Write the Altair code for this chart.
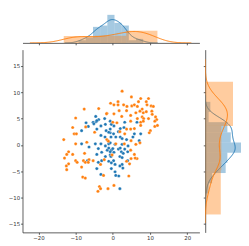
import altair as alt
import numpy as np
import pandas as pd

# ---- data ----
blue_x = [-4.6, -2.2, -7.2, -5.3, -4.5, -3.8, -0.7, 3.2, 6.5,
          -8.4, -6.6, -5.1, -4.3, -3.2, -2.0, -0.4, -4.3, -1.8, -0.7,
          -3.2, -2.1, -8.4, -6.4, -4.7, -3.9, -3.2, -2.0, -1.1, -1.5,
          -3.0, -4.3, -0.7, -2.0, -6.8, -3.0, -0.4, -1.1,
          0.3, -0.7, -1.1, 0.2, 1.5, 2.0, 3.0, 5.8, 7.5, -0.5,
          0.8, 2.0, 2.5, -0.7, 0.6, 2.5, 4.1, -1.1, 0.0, 1.5,
          2.0, 3.2, -0.7, 0.3, 2.3, 2.8, 4.0, -0.5, 1.9, 2.5,
          0.2, 4.0, 7.1, 5.4, 3.7,
          -4.3, -3.2, -3.9, -0.4,
          1.9, 0.6, 0.8, 2.5, 1.9, 2.7, -0.4, 0.6, 1.6]
blue_y = [5.4, 5.0, 4.2, 4.3, 4.4, 4.8, 4.5, 4.3, 4.3,
          2.7, 3.5, 4.0, 4.6, 3.6, 3.9, 3.9, 3.0, 2.7, 2.3,
          1.8, 1.5, 0.2, -0.4, 0.2, -0.7, 0.2, -0.2, 0.2, -1.0,
          -1.4, -1.8, -1.9, -2.2, -3.0, -3.0, -1.0, -3.1,
          3.6, 3.0, 2.4, 2.1, 2.5, 3.1, 3.3, 2.1, 2.1, 1.5,
          1.5, 1.5, 1.2, 0.4, 0.1, 0.1, -0.2, -0.6, -0.7, -0.8,
          -0.6, -0.8, -1.3, -1.4, -1.3, -1.6, -1.3, -2.2, -2.2, -2.4,
          -3.0, -3.0, 0.8, 1.5, 1.0,
          -4.5, -5.6, -3.3, -3.4,
          -8.3, -5.1, -5.8, -3.7, -4.0, -4.4, -4.5, -3.7, -5.9]
orange_x = [-10.0, -7.7, -3.8, -1.6,
            2.5, 5.0, 1.4, -0.6, 0.3, 1.4, 2.9, 7.5, 6.9, 3.8, 5.1, 5.8, 6.6,
            7.9, 9.0, 1.7, 0.3, 3.7, 4.8, 6.2, 7.3, 8.2, 7.9, -1.7, 2.4, 6.6,
            8.3, 0.0, 1.1, 4.8, 7.5,
            9.6, 9.2, 10.3, 10.9, 9.0, 10.5, 10.6, 9.6, 11.5, 11.8, 11.3,
            11.3, 12.0, 10.1, 9.8,
            -10.8, -10.4, -9.8, -13.2, -10.0, -7.0, -4.9, -7.6, -11.9, -10.8,
            -12.4, -13.0, -10.0, -7.9, -6.4, -5.3, -2.3, -1.6,
            8.2, 7.5, 3.2, 4.8, 5.8, 3.7, 1.9, -1.2, 0.8, 3.1, 4.9, 6.2, 7.3,
            4.8, 5.8, 4.9, 6.5, 3.7, -0.2,
            -11.9, -12.5, -12.4, -9.6, -8.4, -7.4, -6.6, -3.3, -8.1, -7.4,
            -3.6, -3.3, -4.0, -1.3,
            0.3, 4.3, 6.0, 4.5, -2.5, -7.3]
orange_y = [5.1, 6.8, 6.9, 6.0,
            10.2, 9.1, 8.2, 7.9, 7.6, 7.6, 7.6, 8.8, 8.2, 7.3, 7.4, 7.6, 7.3,
            6.8, 8.2, 6.5, 5.9, 6.5, 5.6, 6.1, 6.4, 6.1, 5.3, 5.9, 5.4, 5.0,
            5.0, 4.3, 4.2, 4.5, 4.3,
            8.8, 7.6, 7.4, 7.3, 6.3, 6.4, 5.8, 5.0, 5.3, 4.8, 4.5,
            3.5, 3.7, 2.7, 2.3,
            3.3, 2.1, 2.1, 1.0, 0.2, 0.5, 2.4, -1.6, -1.3, -1.8,
            -1.8, -2.5, -3.0, -3.0, -2.8, -3.0, -2.8, 1.0,
            4.5, 3.7, 2.1, 3.0, 3.1, 3.0, 2.5, 0.7, 0.2, 0.2, 0.8, 0.1, 0.4,
            -1.0, -1.8, -2.6, -2.6, -3.1, -1.9,
            -3.6, -4.0, -4.7, -3.3, -4.2, -3.3, -3.3, -3.7, -6.1, -6.3,
            -7.9, -8.3, -8.8, -8.3,
            -7.7, -5.9, -2.5, -3.6, -5.8, 3.4]

groups = ["0", "1"]
colors = ["#1f77b4", "#ff7f0e"]
x_ticks = [-20, -10, 0, 10, 20]
y_ticks = [-15, -10, -5, 0, 5, 10, 15]
x_domain = [-24.3, 23.3]
y_domain = [-16.6, 18.07]

# histogram bins read from the marginals: (first edge, bin width)
bins_x = {"0": (-9.2, 1.93), "1": (-13.2, 8.4)}
bins_y = {"0": (-9.75, 1.95), "1": (-8.8, 4.75)}

series = {"0": (blue_x, blue_y), "1": (orange_x, orange_y)}

rows = []
for g in groups:
    xs, ys = series[g]
    for a, b in zip(xs, ys):
        rows.append({"x": a, "y": b, "g": g})
df = pd.DataFrame(rows)


def kde_bw(v):
    v = np.asarray(v, float)
    iqr = np.subtract(*np.percentile(v, [75, 25]))
    return 1.059 * min(v.std(ddof=1), iqr / 1.349) * len(v) ** -0.2


FONT = "DejaVu Sans"
LBL = 5.6
W_MAIN, H_MAIN = 183, 189
H_TOP, W_RIGHT = 29, 37

xs_main = alt.Scale(domain=x_domain, nice=False, zero=False)
ys_main = alt.Scale(domain=y_domain, nice=False, zero=False)
dens_scale = alt.Scale(nice=False, zero=True)

top_xaxis = alt.Axis(values=x_ticks, labels=False, ticks=True, tickSize=2,
                     domain=True, grid=False, title=None)
right_yaxis = alt.Axis(values=y_ticks, labels=False, ticks=True, tickSize=2,
                       domain=True, grid=False, title=None)

top_layers = []
right_layers = []
for g, col in zip(groups, colors):
    for dim, layers, bins in (("x", top_layers, bins_x), ("y", right_layers, bins_y)):
        vals = np.asarray(series[g][0 if dim == "x" else 1], float)
        n = len(vals)
        lo, hi = float(vals.min()), float(vals.max())
        start, step = bins[g]
        k = int(np.ceil((hi - start) / step - 1e-9))
        bw = kde_bw(vals)
        base = alt.Chart(df).transform_filter(alt.datum.g == g)
        hist = base.transform_bin(
            "b", dim, bin=alt.Bin(extent=[start, start + k * step], step=step, nice=False)
        ).transform_aggregate(
            count="count()", groupby=["b", "b_end"]
        ).transform_calculate(dens=f"datum.count / ({n} * {step})")
        kde = base.transform_density(
            dim, as_=["v", "dens"], bandwidth=bw,
            extent=[lo - 3 * bw, hi + 3 * bw], steps=200
        )
        if dim == "x":
            layers.append(hist.mark_bar(color=col, opacity=0.4, strokeWidth=0).encode(
                x=alt.X("b:Q", scale=xs_main, axis=top_xaxis),
                x2="b_end:Q",
                y=alt.Y("dens:Q", axis=None, scale=dens_scale),
                y2=alt.datum(0)))
            layers.append(kde.mark_line(color=col, strokeWidth=1, clip=True).encode(
                x=alt.X("v:Q", scale=xs_main, axis=top_xaxis),
                y=alt.Y("dens:Q", axis=None, scale=dens_scale)))
        else:
            layers.append(hist.mark_bar(color=col, opacity=0.4, strokeWidth=0).encode(
                y=alt.Y("b:Q", scale=ys_main, axis=right_yaxis),
                y2="b_end:Q",
                x=alt.X("dens:Q", axis=None, scale=dens_scale),
                x2=alt.datum(0)))
            layers.append(kde.mark_line(color=col, strokeWidth=1, clip=True).encode(
                y=alt.Y("v:Q", scale=ys_main, axis=right_yaxis),
                x=alt.X("dens:Q", axis=None, scale=dens_scale),
                order="v:Q"))

top = alt.layer(*top_layers).properties(width=W_MAIN, height=H_TOP)
right = alt.layer(*right_layers).properties(width=W_RIGHT, height=H_MAIN)

spacer = alt.Chart(pd.DataFrame({"v": [0]})).mark_point(opacity=0).encode(
    x=alt.value(0), y=alt.value(0)).properties(width=W_RIGHT, height=H_TOP)

main = alt.Chart(df).mark_point(
    filled=True, shape="circle", size=11, opacity=1,
    stroke="white", strokeWidth=0.3
).encode(
    x=alt.X("x:Q", scale=xs_main,
            axis=alt.Axis(values=x_ticks, title=None, grid=False, tickSize=2,
                          labelPadding=1.5)),
    y=alt.Y("y:Q", scale=ys_main,
            axis=alt.Axis(values=y_ticks, title=None, grid=False, tickSize=2,
                          labelPadding=1)),
    color=alt.Color("g:N", scale=alt.Scale(domain=groups, range=colors), legend=None),
    order=alt.Order("g:N"),
).properties(width=W_MAIN, height=H_MAIN)

chart = alt.concat(top, spacer, main, right, columns=2,
                   spacing={"row": 4, "column": 3}).properties(
    padding=0
).configure_view(stroke=None).configure_axis(
    labelFont=FONT, labelFontSize=LBL, labelColor="#333",
    domainColor="#333", domainWidth=0.8, tickColor="#333", tickWidth=0.8
)

chart.save("out.html", embed_options={"renderer": "svg", "actions": False})
